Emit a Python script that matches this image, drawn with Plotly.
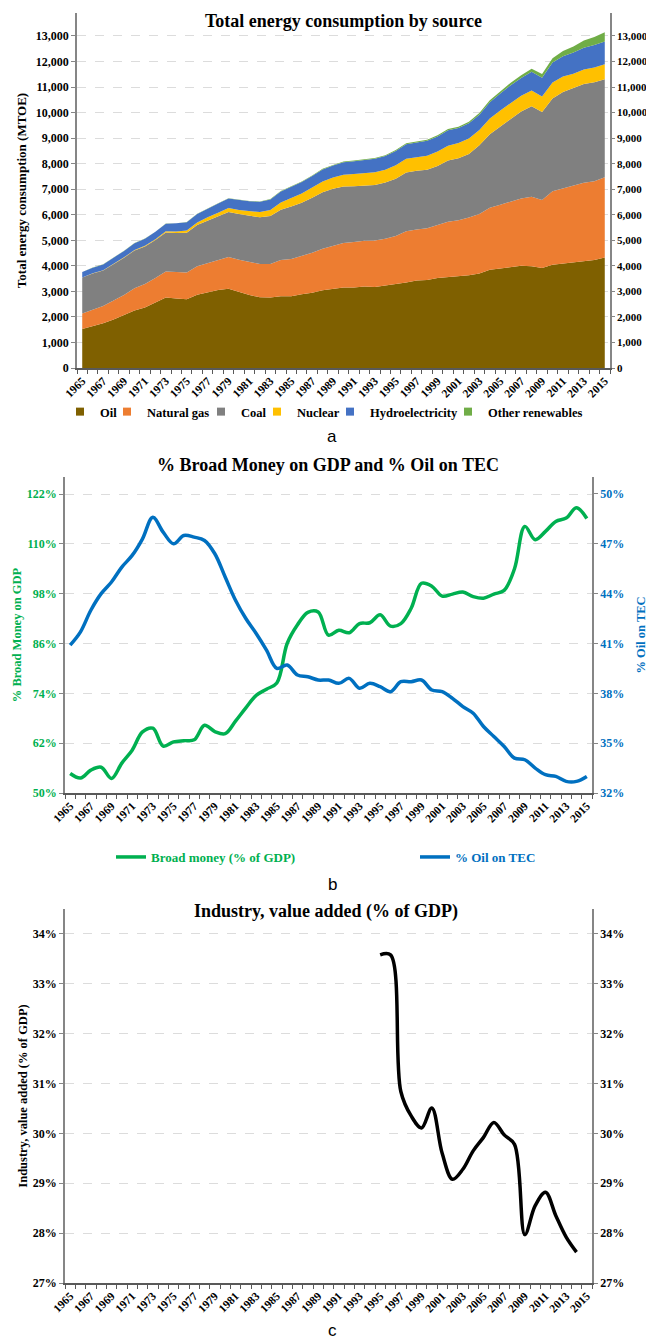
import plotly.graph_objects as go

years = list(range(1965, 2016))

# Panel a: energy consumption by source (MTOE)
oil = [1530, 1640, 1750, 1900, 2060, 2250, 2370, 2550, 2760, 2720, 2690, 2870, 2970, 3050, 3100,
       2970, 2860, 2770, 2760, 2810, 2810, 2890, 2950, 3040, 3100, 3150, 3150, 3190, 3170, 3230,
       3270, 3350, 3430, 3450, 3520, 3560, 3590, 3630, 3700, 3850, 3900, 3950, 4000, 3980, 3920,
       4040, 4090, 4140, 4190, 4230, 4330]
gas = [600, 640, 680, 740, 800, 870, 920, 970, 1020, 1040, 1050, 1110, 1140, 1190, 1250,
       1270, 1290, 1300, 1310, 1420, 1460, 1490, 1560, 1630, 1690, 1740, 1780, 1790, 1820, 1830,
       1900, 2000, 1990, 2020, 2080, 2170, 2200, 2260, 2330, 2420, 2490, 2550, 2640, 2730, 2660,
       2880, 2930, 3010, 3060, 3080, 3140]
coal = [1410, 1420, 1390, 1420, 1460, 1480, 1470, 1490, 1530, 1530, 1560, 1620, 1670, 1690, 1760,
        1790, 1800, 1830, 1880, 1970, 2050, 2090, 2160, 2210, 2230, 2220, 2190, 2170, 2180, 2200,
        2240, 2300, 2300, 2290, 2310, 2390, 2420, 2490, 2690, 2880, 3070, 3250, 3400, 3540, 3440,
        3630, 3790, 3810, 3870, 3880, 3840]
nuclear = [6, 8, 9, 12, 14, 18, 25, 33, 45, 56, 83, 98, 124, 145, 151,
           161, 190, 206, 233, 282, 334, 361, 393, 427, 439, 453, 475, 480, 495, 505,
           526, 545, 545, 555, 570, 584, 600, 610, 598, 624, 627, 635, 622, 620, 614,
           626, 600, 560, 563, 575, 583]
hydro = [209, 222, 228, 238, 252, 266, 276, 287, 292, 317, 325, 330, 340, 362, 375,
         384, 390, 403, 418, 430, 440, 448, 455, 466, 467, 491, 502, 503, 527, 533,
         561, 568, 575, 580, 586, 601, 588, 596, 599, 635, 660, 688, 697, 725, 735,
         781, 795, 832, 860, 880, 893]
other_ren = [5, 5, 5, 6, 6, 6, 7, 7, 8, 8, 9, 9, 10, 10, 11,
             12, 13, 14, 15, 17, 19, 21, 23, 25, 26, 29, 30, 32, 34, 36,
             38, 40, 43, 45, 48, 51, 53, 60, 66, 75, 84, 95, 108, 124, 142,
             168, 205, 240, 280, 318, 365]

# Panel b
broad_money = [54.7, 53.6, 55.5, 56.2, 53.5, 57.2, 60.3, 64.7, 65.6, 61.3, 62.3, 62.6, 62.8, 66.3, 64.8,
               64.3, 67.3, 70.5, 73.5, 75.0, 76.5, 86.0, 90.5, 93.5, 93.6, 88.0, 89.2, 88.6, 90.8, 91.0,
               92.9, 90.2, 90.8, 94.5, 100.5, 99.8, 97.4, 97.9, 98.4, 97.3, 96.9, 97.9, 98.8, 104.0, 114.2,
               111.0, 113.0, 115.4, 116.2, 118.7, 116.1]
oil_share = [40.9, 41.7, 43.0, 44.0, 44.7, 45.6, 46.3, 47.3, 48.6, 47.7, 47.0, 47.5, 47.4, 47.2, 46.4,
             45.0, 43.6, 42.5, 41.6, 40.6, 39.5, 39.7, 39.1, 39.0, 38.8, 38.8, 38.6, 38.9, 38.3, 38.6,
             38.4, 38.1, 38.7, 38.7, 38.8, 38.2, 38.1, 37.7, 37.2, 36.8, 36.0, 35.4, 34.8, 34.1, 34.0,
             33.5, 33.1, 33.0, 32.7, 32.7, 33.0]

# Panel c
ind_years = list(range(1995, 2015))
industry = [33.58, 33.58, 30.84, 30.35, 30.11, 30.51, 29.6, 29.08, 29.28, 29.65,
            29.92, 30.22, 29.97, 29.78, 27.97, 28.55, 28.82, 28.35, 27.92, 27.62]

a_ticks = list(range(0, 13001, 1000))
a_ticktext = [f"{v:,}" for v in a_ticks]
b_left_ticks = [50, 62, 74, 86, 98, 110, 122]
b_right_ticks = [32, 35, 38, 41, 44, 47, 50]
c_ticks = [27, 28, 29, 30, 31, 32, 33, 34]
x_label_years = list(range(1965, 2016, 2))

SERIF = "Liberation Serif"
OFF = 8  # page body margin
W, H = 654 - OFF, 1342 - OFF


def py(p):
    return 1 - (p - OFF) / H


def px(p):
    return (p - OFF) / W


fig = go.Figure()

names = ["Oil", "Natural gas", "Coal", "Nuclear", "Hydroelectricity", "Other renewables"]
colors = ["#7f6000", "#ed7d31", "#808080", "#ffc000", "#4472c4", "#70ad47"]
series = [oil, gas, coal, nuclear, hydro, other_ren]
legend_text_x = [100, 147, 241, 297, 370, 488]
for n, c, s in zip(names, colors, series):
    fig.add_trace(go.Scatter(x=years, y=s, name=n, stackgroup="one", mode="lines",
                             line=dict(width=0, color=c), fillcolor=c, showlegend=False,
                             xaxis="x", yaxis="y", hoverinfo="skip"))
leg_layouts = {}
for i, (n, c) in enumerate(zip(names, colors)):
    lname = "legend" if i == 0 else f"legend{i + 1}"
    fig.add_trace(go.Scatter(x=[None], y=[None], name=n, mode="markers",
                             marker=dict(symbol="square", size=8, color=c),
                             xaxis="x", yaxis="y", legend=lname))
    leg_layouts[lname] = dict(x=px(legend_text_x[i] - 40), xanchor="left", y=py(412), yanchor="middle",
                              font=dict(family=SERIF, size=12.5, color="black", weight="bold"),
                              itemwidth=30, bgcolor="rgba(0,0,0,0)", borderwidth=0)
fig.add_trace(go.Scatter(x=[None], y=[None], xaxis="x", yaxis="y2", showlegend=False))

fig.add_trace(go.Scatter(x=years, y=broad_money, mode="lines", line=dict(color="#00b050", width=3.5, shape="spline"),
                         name="Broad money (% of GDP)", xaxis="x2", yaxis="y3", legend="legend7"))
fig.add_trace(go.Scatter(x=years, y=oil_share, mode="lines", line=dict(color="#0070c0", width=3.5, shape="spline"),
                         name="% Oil on TEC", xaxis="x2", yaxis="y4", legend="legend8"))
leg_layouts["legend7"] = dict(x=px(151 - 40), xanchor="left", y=py(857), yanchor="middle",
                              font=dict(family=SERIF, size=13, color="#00b050", weight="bold"),
                              itemwidth=30, bgcolor="rgba(0,0,0,0)", borderwidth=0)
leg_layouts["legend8"] = dict(x=px(455 - 40), xanchor="left", y=py(857), yanchor="middle",
                              font=dict(family=SERIF, size=13, color="#0070c0", weight="bold"),
                              itemwidth=30, bgcolor="rgba(0,0,0,0)", borderwidth=0)

fig.add_trace(go.Scatter(x=ind_years, y=industry, mode="lines", line=dict(color="black", width=3.5, shape="spline"),
                         showlegend=False, xaxis="x3", yaxis="y5"))
fig.add_trace(go.Scatter(x=[None], y=[None], xaxis="x3", yaxis="y6", showlegend=False))

tickfont = dict(family=SERIF, size=12, color="black", weight="bold")
xtickfont = dict(family=SERIF, size=11.5, color="black", weight="bold")


def xax(x0, x1, y_anchor):
    return dict(domain=[px(x0), px(x1)], range=[1964.5, 2015.5], anchor=y_anchor,
                tickvals=x_label_years, ticktext=[str(v) for v in x_label_years],
                tickangle=-45, ticks="", tickfont=xtickfont, showgrid=False,
                showline=True, linecolor="#595959", linewidth=1.5, zeroline=False,
                minor=dict(tick0=1964.5, dtick=1, ticks="outside", ticklen=4, tickcolor="#595959", showgrid=False),
                fixedrange=True, automargin=False)


def yax(y0, y1, rng, tickvals, ticktext, anchor, side="left", overlay=None, font=tickfont,
        title=None, grid=True, ticklen=4):
    d = dict(domain=[py(y1), py(y0)], range=rng, tickvals=tickvals, ticktext=ticktext,
             anchor=anchor, side=side,
             tickfont=font, showline=True, linecolor="#868686", linewidth=1.5, ticks="outside",
             ticklen=ticklen, tickcolor="#868686", zeroline=False, showgrid=grid,
             gridcolor="#dcdcdc", griddash="dash", gridwidth=1, fixedrange=True, automargin=False)
    if overlay:
        d["overlaying"] = overlay
    if title:
        d["title"] = title
    return d


def pct(vals):
    return [f"{v}%" for v in vals]


layout = dict(
    width=W, height=H, margin=dict(l=0, r=0, t=0, b=0, autoexpand=False),
    paper_bgcolor="white", plot_bgcolor="white",
    font=dict(family=SERIF, color="black"),
    xaxis=xax(77, 610, "y"),
    yaxis=yax(13, 368, [0, 13900], a_ticks, a_ticktext, "x",
              title=dict(text="Total energy consumption (MTOE)",
                         font=dict(family=SERIF, size=13, color="black", weight="bold"), standoff=6)),
    yaxis2=yax(13, 368, [0, 13900], a_ticks, a_ticktext, "x", side="right", overlay="y", grid=False,
               font=dict(family=SERIF, size=11, color="black", weight="bold"), ticklen=3),
    xaxis2=xax(65, 592, "y3"),
    yaxis3=yax(477, 793, [50, 126.1], b_left_ticks, pct(b_left_ticks), "x2",
               font=dict(family=SERIF, size=12, color="#00b050", weight="bold"),
               title=dict(text="% Broad Money on GDP",
                          font=dict(family=SERIF, size=12.5, color="#00b050", weight="bold"), standoff=2)),
    yaxis4=yax(477, 793, [32, 51.02], b_right_ticks, pct(b_right_ticks), "x2", side="right", overlay="y3",
               font=dict(family=SERIF, size=12, color="#0070c0", weight="bold"), grid=False,
               title=dict(text="% Oil on TEC",
                          font=dict(family=SERIF, size=12.5, color="#0070c0", weight="bold"), standoff=13)),
    xaxis3=xax(65, 592, "y5"),
    yaxis5=yax(909, 1283, [27, 34.5], c_ticks, pct(c_ticks), "x3",
               title=dict(text="Industry, value added (% of GDP)",
                          font=dict(family=SERIF, size=12.5, color="black", weight="bold"), standoff=2)),
    yaxis6=yax(909, 1283, [27, 34.5], c_ticks, pct(c_ticks), "x3", side="right", overlay="y5", grid=False),
    showlegend=True,
)
layout.update(leg_layouts)
fig.update_layout(**layout)

titles = [("Total energy consumption by source", 343, 8.5, "top"),
          ("% Broad Money on GDP and % Oil on TEC", 328, 465, "middle"),
          ("Industry, value added (% of GDP)", 326, 911, "middle")]
for t, xx, yy, ya in titles:
    fig.add_annotation(text=t, x=px(xx), y=py(yy), xref="paper", yref="paper", showarrow=False,
                       xanchor="center", yanchor=ya,
                       font=dict(family=SERIF, size=18, color="black", weight="bold"))
for lab, yy in [("a", 437), ("b", 884), ("c", 1330)]:
    fig.add_annotation(text=lab, x=px(332), y=py(yy), xref="paper", yref="paper", showarrow=False,
                       xanchor="center", yanchor="middle",
                       font=dict(family="Liberation Sans", size=17, color="black"))

fig.write_html("out.html")
